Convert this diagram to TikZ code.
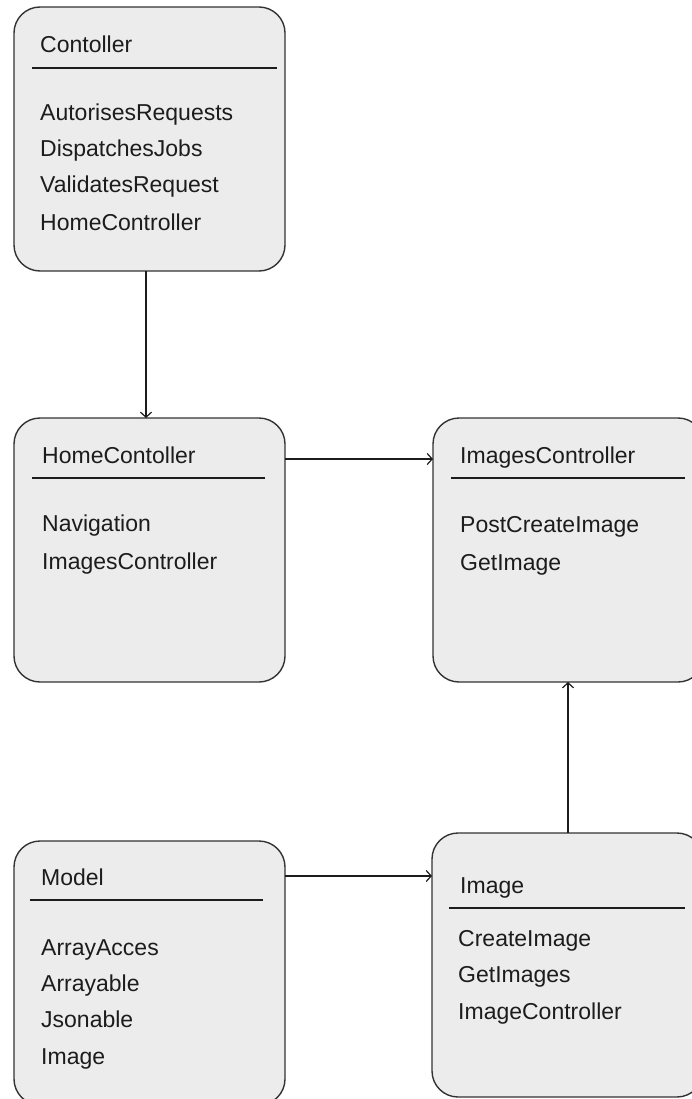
\documentclass[tikz,border=0pt]{standalone}
\usepackage{fontspec}
\setmainfont{Liberation Sans}
\usetikzlibrary{arrows.meta}
\definecolor{boxfill}{HTML}{ECECEC}
\definecolor{boxline}{HTML}{333333}
\definecolor{ink}{HTML}{1C1C1C}
\tikzset{
  classbox/.style={draw=boxline, fill=boxfill, line width=1.4pt, rounded corners=26pt,
    minimum width=271pt, minimum height=264pt, anchor=north west, inner sep=0pt, outer sep=0pt},
  label/.style={anchor=base west, inner sep=0pt, text=ink,
    font=\fontsize{23}{27}\selectfont},
  sep/.style={draw=ink, line width=1.3pt},
  link/.style={draw=ink, line width=1.3pt, -{Straight Barb[length=5pt,width=11pt,line width=1.2pt]}}
}
\begin{document}
\begin{tikzpicture}[x=1pt, y=-1pt]
\useasboundingbox (0,0) rectangle (692,1099);

% class boxes
\node[classbox] (ctl)  at (14,7)    {};
\node[classbox] (home) at (14,418)  {};
\node[classbox] (imgc) at (433,418) {};
\node[classbox] (mdl)  at (14,841)  {};
\node[classbox] (img)  at (432,833) {};

% Contoller
\node[label] (ctlT) at (40,53) {Contoller};
\draw[sep] (32,68) -- (277,68);
\node[label] (ctl1) at (40,121) {AutorisesRequests};
\node[label] (ctl2) at (40,157) {DispatchesJobs};
\node[label] (ctl3) at (40,193) {ValidatesRequest};
\node[label] (ctl4) at (40,230) {HomeController};

% HomeContoller
\node[label] (homeT) at (42,463) {HomeContoller};
\draw[sep] (32,478) -- (265,478);
\node[label] (home1) at (42,531) {Navigation};
\node[label] (home2) at (42,569) {ImagesController};

% ImagesController
\node[label] (imgcT) at (460,463) {ImagesController};
\draw[sep] (451,478) -- (685,478);
\node[label] (imgc1) at (460,532) {PostCreateImage};
\node[label] (imgc2) at (460,570) {GetImage};

% Model
\node[label] (mdlT) at (41,885) {Model};
\draw[sep] (30,900) -- (263,900);
\node[label] (mdl1) at (41,955) {ArrayAcces};
\node[label] (mdl2) at (41,991) {Arrayable};
\node[label] (mdl3) at (41,1027) {Jsonable};
\node[label] (mdl4) at (41,1064) {Image};

% Image
\node[label] (imgT) at (460,893) {Image};
\draw[sep] (449,908) -- (685,908);
\node[label] (img1) at (458,946) {CreateImage};
\node[label] (img2) at (458,982) {GetImages};
\node[label] (img3) at (458,1019) {ImageController};

% connectors
\coordinate (c1) at ([xshift=132pt]ctl.south west);
\draw[link] (c1) -- (c1 |- home.north);
\coordinate (c2) at ([yshift=-41pt]home.north east);
\draw[link] (c2) -- (c2 -| imgc.west);
\coordinate (c3) at ([yshift=-35pt]mdl.north east);
\draw[link] (c3) -- (c3 -| img.west);
\coordinate (c4) at ([xshift=136pt]img.north west);
\draw[link] (c4) -- (c4 |- imgc.south);
\end{tikzpicture}
\end{document}
